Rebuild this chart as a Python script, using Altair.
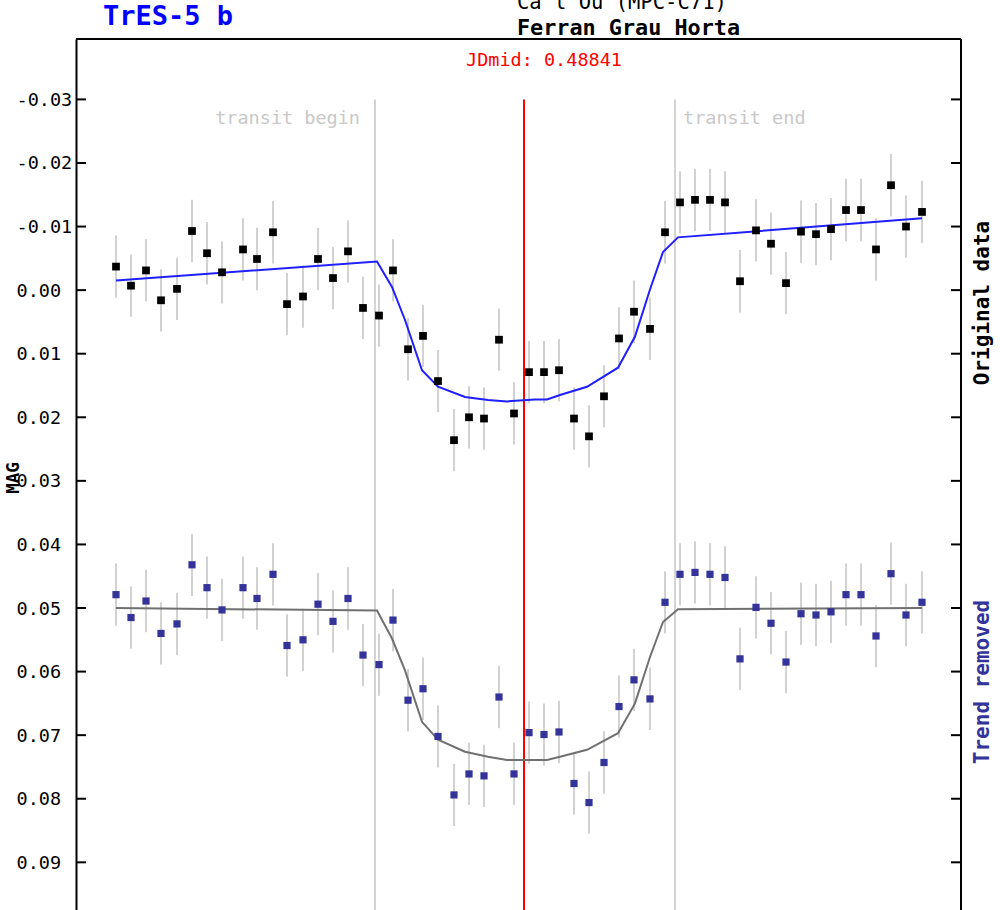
import altair as alt
import pandas as pd

# ---------------- data ----------------
# observation times (fraction of JD)
jd = [0.38641, 0.39016, 0.39391, 0.39766, 0.40166, 0.40541, 0.40916, 0.41291,
      0.41816, 0.42166, 0.42566, 0.42916, 0.43316, 0.43691, 0.44066, 0.44441,
      0.44816, 0.45216, 0.45566, 0.45941, 0.46316, 0.46691, 0.47091, 0.47466,
      0.47841, 0.48216, 0.48591, 0.48966, 0.49341, 0.49716, 0.50091, 0.50466,
      0.50841, 0.51216, 0.51591, 0.51991, 0.52366, 0.52741, 0.53116, 0.53491,
      0.53866, 0.54241, 0.54641, 0.55016, 0.55391, 0.55766, 0.56141, 0.56516,
      0.56891, 0.57266, 0.57641, 0.58016, 0.58391, 0.58791]

# original magnitudes
mag_orig = [-0.0037, -0.0007, -0.0031, 0.0016, -0.0002, -0.0093, -0.0058, -0.0028,
            -0.0064, -0.0049, -0.0091, 0.0022, 0.0010, -0.0049, -0.0019, -0.0061,
            0.0028, 0.0040, -0.0031, 0.0093, 0.0072, 0.0143, 0.0236, 0.0200,
            0.0202, 0.0078, 0.0194, 0.0129, 0.0129, 0.0126, 0.0202, 0.0230,
            0.0167, 0.0076, 0.0034, 0.0061, -0.0091, -0.0138, -0.0142, -0.0142,
            -0.0138, -0.0014, -0.0094, -0.0073, -0.0011, -0.0092, -0.0088, -0.0096,
            -0.0126, -0.0126, -0.0064, -0.0165, -0.0100, -0.0123]

# trend-removed magnitudes
mag_detr = [0.0479, 0.0515, 0.0489, 0.0540, 0.0525, 0.0432, 0.0468, 0.0503,
            0.0468, 0.0485, 0.0447, 0.0559, 0.0550, 0.0494, 0.0521, 0.0485,
            0.0574, 0.0589, 0.0519, 0.0645, 0.0627, 0.0702, 0.0794, 0.0761,
            0.0764, 0.0640, 0.0761, 0.0696, 0.0699, 0.0695, 0.0776, 0.0806,
            0.0743, 0.0655, 0.0613, 0.0643, 0.0491, 0.0447, 0.0444, 0.0447,
            0.0452, 0.0580, 0.0499, 0.0524, 0.0585, 0.0509, 0.0511, 0.0506,
            0.0479, 0.0479, 0.0544, 0.0446, 0.0511, 0.0491]

mag_err = 0.0049

# fitted model curves
model_jd = [0.38641, 0.45166, 0.45541, 0.45866, 0.46291, 0.46691, 0.47366, 0.47941,
            0.48416, 0.49116, 0.49416, 0.49741, 0.50416, 0.51191, 0.51616, 0.51991,
            0.52316, 0.52691, 0.58791]
model_orig = [-0.0015, -0.0045, -0.0005, 0.0047, 0.0126, 0.0152, 0.0168, 0.0173,
              0.0175, 0.0172, 0.0172, 0.0165, 0.0152, 0.0122, 0.0073, -0.0001,
              -0.0060, -0.0083, -0.0113]
model_detr = [0.0500, 0.0504, 0.0548, 0.0598, 0.0679, 0.0707, 0.0726, 0.0734,
              0.0739, 0.0739, 0.0739, 0.0734, 0.0723, 0.0697, 0.0650, 0.0577,
              0.0522, 0.0502, 0.0500]

transit_begin = 0.45116
transit_end = 0.52616
jd_mid = 0.48841

y_ticks = [-0.03, -0.02, -0.01, 0.00, 0.01, 0.02, 0.03, 0.04, 0.05, 0.06, 0.07, 0.08, 0.09]

# ---------------- chart ----------------
W, H = 885, 871
FONT = "DejaVu Sans Mono"
xs = alt.Scale(domain=[0.37641, 0.59766], nice=False, zero=False)
ys = alt.Scale(domain=[-0.0395, 0.0975], nice=False, zero=False, reverse=True)

obs = pd.DataFrame({"jd": jd, "orig": mag_orig, "detr": mag_detr})
obs["orig_lo"] = obs["orig"] - mag_err
obs["orig_hi"] = obs["orig"] + mag_err
obs["detr_lo"] = obs["detr"] - mag_err
obs["detr_hi"] = obs["detr"] + mag_err
model = pd.DataFrame({"jd": model_jd, "orig": model_orig, "detr": model_detr})
one = alt.Data(values=[{}])

X = lambda f: alt.X(f, type="quantitative", scale=xs, axis=None)
yaxis = alt.Axis(values=y_ticks, orient="left", title=None, grid=False,
                 ticks=False, domain=True, domainColor="black", domainWidth=2,
                 labelFont=FONT, labelFontSize=18.5, labelColor="black",
                 labelAlign="left", labelPadding=60,
                 labelExpr="replace(format(datum.value, '.2f'), '\u2212', '-')")

# vertical lines
vlines = pd.DataFrame({"jd": [transit_begin, transit_end], "top": [-0.03, -0.03]})
transit_lines = alt.Chart(vlines).mark_rule(color="#d4d4d4", strokeWidth=2).encode(
    x=X("jd"), y=alt.Y("top:Q", scale=ys, axis=yaxis), y2=alt.value(H))
mid_line = alt.Chart(pd.DataFrame({"jd": [jd_mid], "top": [-0.03]})).mark_rule(
    color="#ff0000", strokeWidth=2).encode(
    x=X("jd"), y=alt.Y("top:Q", scale=ys), y2=alt.value(H))

# error bars
err_orig = alt.Chart(obs).mark_rule(color="#d2d2d2", strokeWidth=2).encode(
    x=X("jd"), y=alt.Y("orig_lo:Q", scale=ys), y2="orig_hi:Q")
err_detr = alt.Chart(obs).mark_rule(color="#d2d2d2", strokeWidth=2).encode(
    x=X("jd"), y=alt.Y("detr_lo:Q", scale=ys), y2="detr_hi:Q")

# model lines
line_orig = alt.Chart(model).mark_line(color="#1f1fff", strokeWidth=2).encode(
    x=X("jd"), y=alt.Y("orig:Q", scale=ys))
line_detr = alt.Chart(model).mark_line(color="#707070", strokeWidth=2).encode(
    x=X("jd"), y=alt.Y("detr:Q", scale=ys))

# points
pts_orig = alt.Chart(obs).mark_square(color="black", size=60, opacity=1).encode(
    x=X("jd"), y=alt.Y("orig:Q", scale=ys))
pts_detr = alt.Chart(obs).mark_square(color="#333399", size=52, opacity=1).encode(
    x=X("jd"), y=alt.Y("detr:Q", scale=ys))

# frame: top and right borders, inward ticks
frame_top = alt.Chart(one).mark_rule(color="black", strokeWidth=2).encode(
    x=alt.value(0), x2=alt.value(W), y=alt.value(0))
frame_right = alt.Chart(one).mark_rule(color="black", strokeWidth=2).encode(
    x=alt.value(W), y=alt.value(0), y2=alt.value(H))
tick_df = pd.DataFrame({"t": y_ticks})
ticks_left = alt.Chart(tick_df).mark_rule(color="black", strokeWidth=2).encode(
    y=alt.Y("t:Q", scale=ys), x=alt.value(0), x2=alt.value(10))
ticks_right = alt.Chart(tick_df).mark_rule(color="black", strokeWidth=2).encode(
    y=alt.Y("t:Q", scale=ys), x=alt.value(W - 10), x2=alt.value(W))

# texts
def label(text, x, y, size, color="black", bold=False, align="left", angle=0, baseline="alphabetic"):
    kw = dict(text=text, font=FONT, fontSize=size, color=color, align=align,
              baseline=baseline, fontWeight="bold" if bold else "normal")
    if angle:
        kw["angle"] = angle
    return alt.Chart(one).mark_text(**kw).encode(x=alt.value(x), y=alt.value(y))

title = label("TrES-5 b", 27, -14, 27, color="#0000ff", bold=True)
site = label("Ca l'Ou (MPC-C71)", 441, -30, 20.5)
observer = label("Ferran Grau Horta", 441, -4, 21.8, bold=True)
jdmid_txt = label("JDmid: 0.48841", 390, 27, 18.5, color="#ff0000")
tb_txt = alt.Chart(pd.DataFrame({"jd": [transit_begin]})).mark_text(
    text="transit begin", font=FONT, fontSize=18.5, color="#c8c8c8",
    align="right", baseline="alphabetic", dx=-15).encode(x=X("jd"), y=alt.value(85))
te_txt = alt.Chart(pd.DataFrame({"jd": [transit_end]})).mark_text(
    text="transit end", font=FONT, fontSize=18.5, color="#c8c8c8",
    align="left", baseline="alphabetic", dx=8).encode(x=X("jd"), y=alt.value(85))
mag_txt = label("MAG", -62, 439, 17.5, bold=True, align="center", angle=270, baseline="middle")
orig_txt = label("Original data", 907, 264, 21, bold=True, align="center", angle=270, baseline="middle")
detr_txt = label("Trend removed", 907, 643, 21, color="#333399", bold=True, align="center", angle=270, baseline="middle")

chart = alt.layer(
    transit_lines, mid_line, err_orig, err_detr, line_orig, line_detr,
    pts_orig, pts_detr, frame_top, frame_right, ticks_left, ticks_right,
    title, site, observer, jdmid_txt, tb_txt, te_txt, mag_txt, orig_txt, detr_txt,
).properties(
    width=W, height=H,
    autosize=alt.AutoSizeParams(type="none"),
    padding={"left": 76, "top": 39, "right": 39, "bottom": 0},
    background="white",
).configure_view(stroke=None)

chart.save("out.html", embed_options={"renderer": "svg", "actions": False})
